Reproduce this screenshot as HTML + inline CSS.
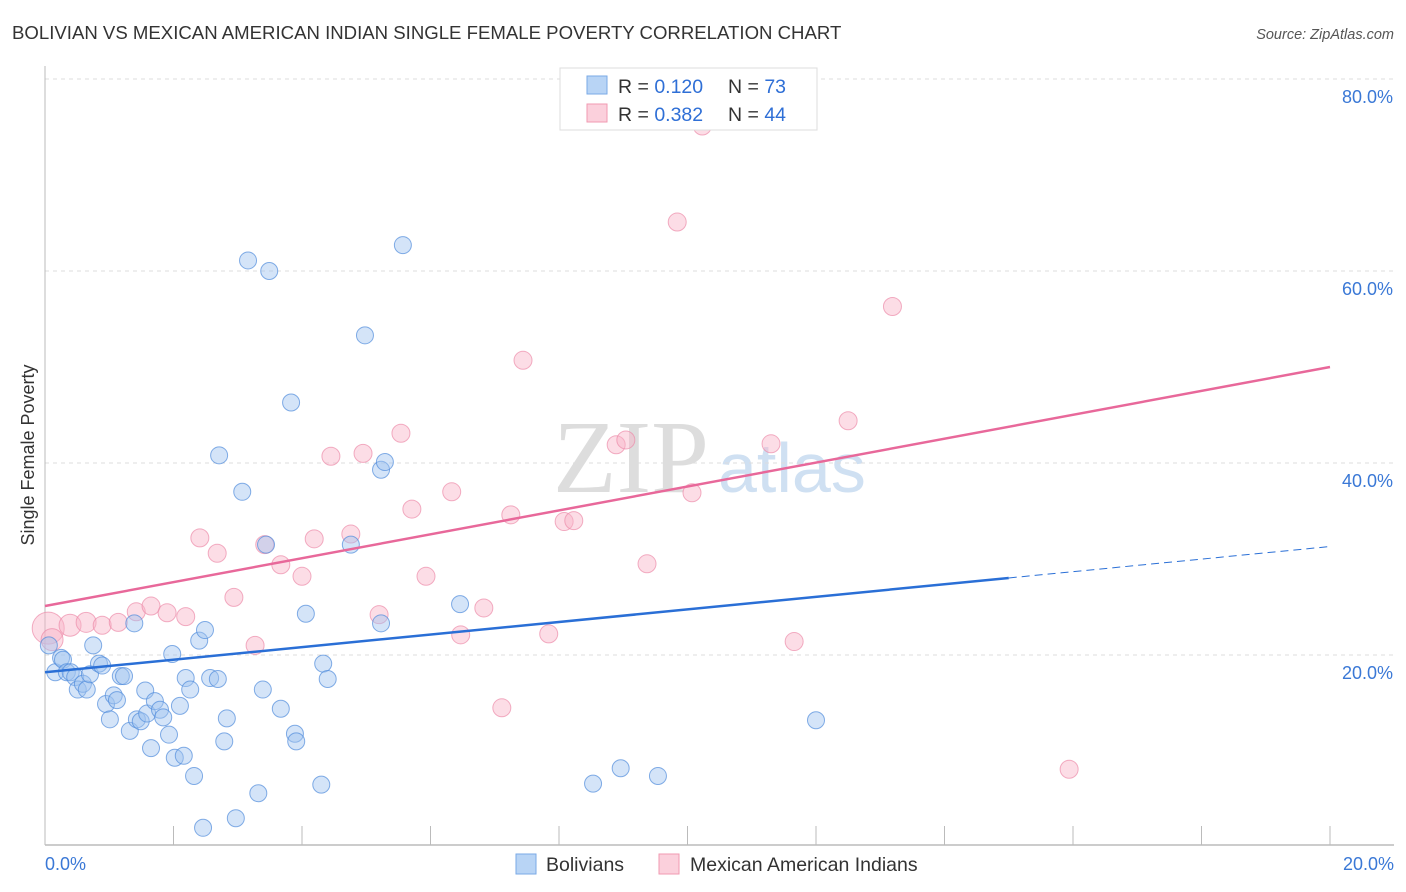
<!DOCTYPE html>
<html><head><meta charset="utf-8"><style>
body{margin:0;background:#fff;font-family:"Liberation Sans",sans-serif;}
svg{display:block}
</style></head><body>
<svg id="chart" width="1406" height="892">
<text x="12" y="39" font-size="18.6" fill="#333">BOLIVIAN VS MEXICAN AMERICAN INDIAN SINGLE FEMALE POVERTY CORRELATION CHART</text>
<text x="1394" y="39" font-size="14.5" fill="#555" font-style="italic" text-anchor="end">Source: ZipAtlas.com</text>
<text x="34" y="455" font-size="18" fill="#333" text-anchor="middle" transform="rotate(-90 34 455)">Single Female Poverty</text>
<g>
<text x="553" y="492" font-size="104" fill="#ddd" font-family="Liberation Serif,serif">ZIP</text>
<text x="718" y="492" font-size="70" fill="#cfe0f2">atlas</text>
</g>
<g id="grid"></g><g id="axes"></g><g id="marks"></g>
<g>
<rect x="560" y="68" width="257" height="62" fill="#fff" stroke="#ddd"/>
<rect x="587" y="76" width="20" height="18" fill="#b8d4f5" stroke="#7aaae6"/>
<rect x="587" y="104" width="20" height="18" fill="#fbd0dc" stroke="#f09ab2"/>
<text x="618" y="93" font-size="19.5" fill="#333">R = <tspan fill="#2f6fd6">0.120</tspan><tspan x="728">N = </tspan><tspan fill="#2f6fd6">73</tspan></text>
<text x="618" y="121" font-size="19.5" fill="#333">R = <tspan fill="#2f6fd6">0.382</tspan><tspan x="728">N = </tspan><tspan fill="#2f6fd6">44</tspan></text>
</g>
<g>
<rect x="516" y="854" width="20" height="20" fill="#b8d4f5" stroke="#7aaae6"/>
<text x="546" y="871" font-size="19.5" fill="#333">Bolivians</text>
<rect x="659" y="854" width="20" height="20" fill="#fbd0dc" stroke="#f09ab2"/>
<text x="690" y="871" font-size="19.5" fill="#333">Mexican American Indians</text>
</g>
</svg>
<script>
const yTicks=[20,40,60,80];
const yTickLabels=["20.0%","40.0%","60.0%","80.0%"];
const xTickVals=[0,2,4,6,8,10,12,14,16,18,20];
const xEndLabels=["0.0%","20.0%"];
const bolX=[0.06,0.16,0.25,0.28,0.34,0.40,0.47,0.51,0.59,0.65,0.70,0.75,0.84,0.89,0.95,1.01,1.07,1.12,1.18,1.23,1.32,1.39,1.43,1.49,1.56,1.59,1.65,1.71,1.79,1.84,1.93,1.98,2.02,2.10,2.16,2.19,2.26,2.32,2.40,2.49,2.57,2.69,2.71,2.79,2.83,2.97,3.07,3.16,3.32,3.39,3.44,3.49,3.67,3.83,3.89,3.91,4.06,4.30,4.33,4.40,4.76,4.98,5.23,5.29,5.23,5.57,6.46,8.53,8.96,9.54,12.0,2.46];
const bolY=[21.0,18.2,19.7,19.5,18.2,18.2,17.7,16.4,17.0,16.4,18.0,21.0,19.1,18.9,14.9,13.3,15.8,15.3,17.8,17.8,12.1,23.3,13.3,13.1,16.3,13.9,10.3,15.2,14.3,13.5,11.7,20.1,9.3,14.7,9.5,17.6,16.4,7.4,21.5,22.6,17.6,17.5,40.8,11.0,13.4,3.0,37.0,61.1,5.6,16.4,31.5,60.0,14.4,46.3,11.8,11.0,24.3,6.5,19.1,17.5,31.5,53.3,39.3,40.1,23.3,62.7,25.3,6.6,8.2,7.4,13.2,2.0];
const mexX=[0.05,0.11,0.39,0.64,0.89,1.14,1.42,1.65,1.90,2.19,2.41,2.68,2.94,3.27,3.42,3.67,4.00,4.19,4.45,4.76,4.95,5.20,5.54,5.71,5.93,6.33,6.47,6.83,7.11,7.25,7.44,7.84,8.08,8.23,8.89,9.04,9.37,9.84,10.07,10.23,11.30,11.66,12.50,13.19,15.94];
const mexY=[22.8,21.6,23.1,23.4,23.1,23.4,24.5,25.1,24.4,24.0,32.2,30.6,26.0,21.0,31.5,29.4,28.2,32.1,40.7,32.6,41.0,24.2,43.1,35.2,28.2,37.0,22.1,24.9,14.5,34.6,50.7,22.2,33.9,34.0,41.9,42.4,29.5,65.1,36.9,75.1,42.0,21.4,44.4,56.3,8.1];
const mexR=[16,11,11,10,9,9,9,9,9,9,9,9,9,9,9,9,9,9,9,9,9,9,9,9,9,9,9,9,9,9,9,9,9,9,9,9,9,9,9,9,9,9,9,9,9];
const bolTrend=[18.2,31.3];const bolSolidEnd=15.0;
const mexTrend=[25.1,50.0];
const NS="http://www.w3.org/2000/svg";
const X=v=>45+v*64.25, Y=v=>847-v*9.6;
function mk(t,a,p){const e=document.createElementNS(NS,t);for(const k in a)e.setAttribute(k,a[k]);p.appendChild(e);return e;}
const grid=document.getElementById('grid'),axes=document.getElementById('axes'),marks=document.getElementById('marks');
yTicks.forEach((v,i)=>{
 const l=mk('line',{x1:45,x2:1394,y1:Y(v),y2:Y(v),stroke:'#ddd','stroke-dasharray':'4,4'},grid);
 
 
 const t=mk('text',{x:1393,y:Y(v)+24,'font-size':18,fill:'#3a78d6','text-anchor':'end'},axes);t.textContent=yTickLabels[i];
 
 
});
const yl=mk('line',{x1:45,x2:45,y1:66,y2:845,stroke:'#bbb'},axes);


const xl=mk('line',{x1:45,x2:1394,y1:845,y2:845,stroke:'#bbb','stroke-width':1.5},axes);


xTickVals.forEach(v=>{const t=mk('line',{x1:X(v),x2:X(v),y1:826,y2:845,stroke:'#bbb'},axes);
 
 });
[[0,'start',45],[20,'end',1394]].forEach((d,i)=>{const t=mk('text',{x:d[2],y:870,'font-size':18,fill:'#3a78d6','text-anchor':d[1]},axes);t.textContent=xEndLabels[i];
 
 });
mexX.forEach((x,i)=>{const c=mk('circle',{cx:X(x),cy:Y(mexY[i]),r:mexR[i],fill:'rgba(248,180,200,0.45)',stroke:'rgba(236,140,170,0.7)','stroke-width':1},marks);
 
 });
bolX.forEach((x,i)=>{const c=mk('circle',{cx:X(x),cy:Y(bolY[i]),r:8.5,fill:'rgba(160,196,240,0.45)',stroke:'rgba(80,140,220,0.7)','stroke-width':1},marks);
 
 });
const bAt=x=>bolTrend[0]+(bolTrend[1]-bolTrend[0])*x/20;
const b1=mk('line',{x1:X(0),y1:Y(bAt(0)),x2:X(bolSolidEnd),y2:Y(bAt(bolSolidEnd)),stroke:'#2a6fd6','stroke-width':2.5},marks);


const b2=mk('line',{x1:X(bolSolidEnd),y1:Y(bAt(bolSolidEnd)),x2:X(20),y2:Y(bAt(20)),stroke:'#2a6fd6','stroke-width':1,'stroke-dasharray':'8,5'},marks);


const m1=mk('line',{x1:X(0),y1:Y(mexTrend[0]),x2:X(20),y2:Y(mexTrend[1]),stroke:'#e8689a','stroke-width':2.5},marks);


</script>
</body></html>
